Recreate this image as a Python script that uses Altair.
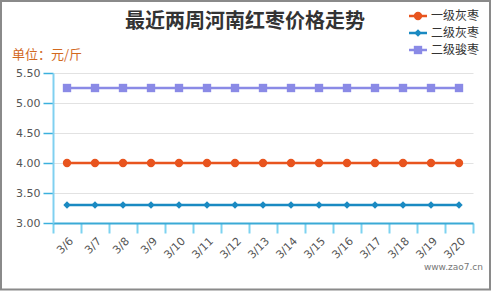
import altair as alt
import pandas as pd

dates = ["3/6", "3/7", "3/8", "3/9", "3/10", "3/11", "3/12", "3/13",
         "3/14", "3/15", "3/16", "3/17", "3/18", "3/19", "3/20"]
series_names = ["一级灰枣", "二级灰枣", "二级骏枣"]
yiji_huizao = [4.00, 4.00, 4.00, 4.00, 4.00, 4.00, 4.00, 4.00, 4.00, 4.00, 4.00, 4.00, 4.00, 4.00, 4.00]
erji_huizao = [3.30, 3.30, 3.30, 3.30, 3.30, 3.30, 3.30, 3.30, 3.30, 3.30, 3.30, 3.30, 3.30, 3.30, 3.30]
erji_junzao = [5.25, 5.25, 5.25, 5.25, 5.25, 5.25, 5.25, 5.25, 5.25, 5.25, 5.25, 5.25, 5.25, 5.25, 5.25]
y_ticks = [3.0, 3.5, 4.0, 4.5, 5.0, 5.5]

values = [yiji_huizao, erji_huizao, erji_junzao]
colors = ["#E8541E", "#1A8AC2", "#8A8AE6"]
shapes = ["circle", "diamond", "square"]
sizes = [70, 55, 70]

W, H = 420, 150
FONT_CJK = "Noto Sans CJK SC"

x_enc = alt.X("date:N", sort=dates, bandPosition=0.5,
              scale=alt.Scale(type="band", paddingInner=0, paddingOuter=0),
              axis=alt.Axis(title=None, tickBand="extent", labelAngle=-45,
                            domainColor="#3AAAD6", domainWidth=2,
                            tickColor="#7DD3F0", tickWidth=2, tickSize=10,
                            gridColor="#E2E2E2", gridWidth=2,
                            labelFont="DejaVu Sans", labelFontSize=11,
                            labelColor="#555555", labelPadding=2))
y_enc = alt.Y("value:Q", scale=alt.Scale(domain=[3.0, 5.5], nice=False, zero=False),
              axis=alt.Axis(title=None, values=y_ticks, format=".2f",
                            domainColor="#80D0F0", domainWidth=2,
                            tickColor="#3AB0DD", tickWidth=1.5, tickSize=10,
                            gridColor="#E2E2E2", gridWidth=1,
                            labelFont="DejaVu Sans", labelFontSize=11,
                            labelColor="#555555", labelPadding=3))

layers = []
for i, name in enumerate(series_names):
    df = pd.DataFrame({"date": dates, "value": values[i], "series": name})
    base = alt.Chart(df)
    layers.append(base.mark_line(color=colors[i], strokeWidth=2.5).encode(x=x_enc, y=y_enc))
    layers.append(base.mark_point(color=colors[i], shape=shapes[i], filled=True,
                                  size=sizes[i], opacity=1).encode(x=x_enc, y=y_enc))

# legend (top right)
for i, name in enumerate(series_names):
    ly = -57 + 17 * i
    ldf = pd.DataFrame({"series": [name]})
    lb = alt.Chart(ldf)
    layers.append(lb.mark_rule(color=colors[i], strokeWidth=2.5).encode(
        x=alt.value(356), x2=alt.value(374), y=alt.value(ly)))
    layers.append(lb.mark_point(color=colors[i], shape=shapes[i], filled=True,
                                size=sizes[i], opacity=1).encode(
        x=alt.value(365), y=alt.value(ly)))
    layers.append(lb.mark_text(align="left", baseline="middle", font=FONT_CJK,
                               fontSize=12, color="#333333").encode(
        x=alt.value(378), y=alt.value(ly), text="series:N"))

title_df = pd.DataFrame({"t": ["最近两周河南红枣价格走势"]})
layers.append(alt.Chart(title_df).mark_text(align="center", baseline="middle",
                                            font=FONT_CJK, fontSize=20, fontWeight="bold",
                                            color="#333333").encode(
    x=alt.value(192), y=alt.value(-51), text="t:N"))

unit_df = pd.DataFrame({"t": ["单位：元/斤"]})
layers.append(alt.Chart(unit_df).mark_text(align="left", baseline="middle",
                                           font=FONT_CJK, fontSize=13,
                                           color="#D2691E").encode(
    x=alt.value(-41), y=alt.value(-18), text="t:N"))

wm_df = pd.DataFrame({"t": ["www.zao7.cn"]})
layers.append(alt.Chart(wm_df).mark_text(align="right", baseline="middle",
                                         font="DejaVu Sans", fontSize=9,
                                         color="#777777").encode(
    x=alt.value(430), y=alt.value(194), text="t:N"))

border_df = pd.DataFrame({"b": [1]})
layers.append(alt.Chart(border_df).mark_rect(fill=None, fillOpacity=0, stroke="#8A8A8A",
                                             strokeWidth=2).encode(
    x=alt.value(-52), x2=alt.value(437), y=alt.value(-72), y2=alt.value(216.5)))

chart = alt.layer(*layers).properties(
    width=W, height=H,
    autosize=alt.AutoSizeParams(type="none"),
    padding={"left": 53, "top": 73, "right": 18, "bottom": 68},
    background="white",
).configure_view(stroke=None)

chart.save("out.html", embed_options={"renderer": "svg", "actions": False})
